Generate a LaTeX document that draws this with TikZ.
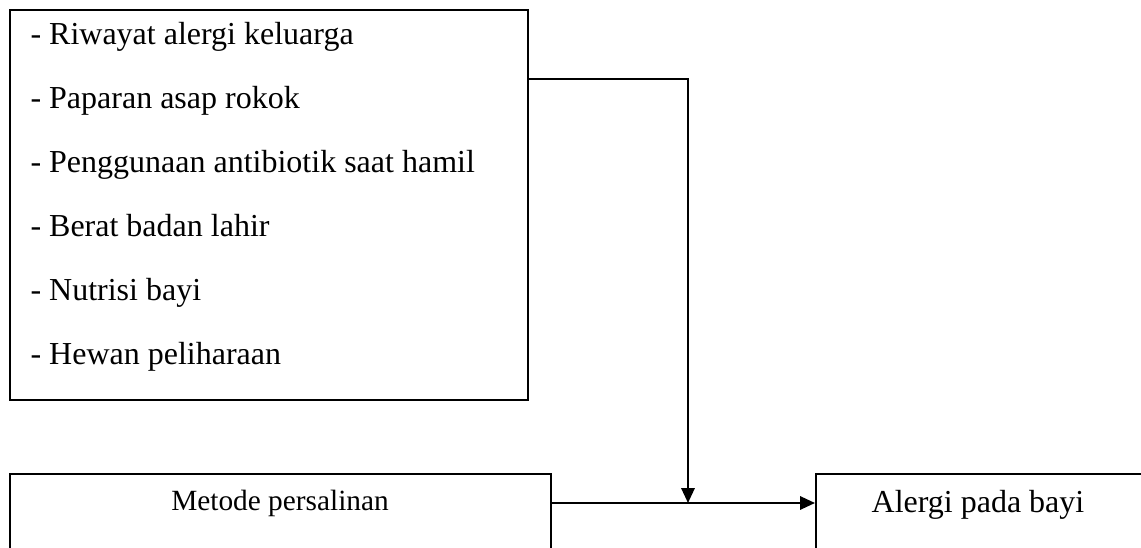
\documentclass[tikz,border=0pt]{standalone}
\usepackage{fontspec}
\setmainfont{Liberation Serif}
\usetikzlibrary{arrows.meta}
\begin{document}
\begin{tikzpicture}[x=0.375pt,y=-0.375pt,
  box/.style={draw, line width=0.8pt, rectangle, inner sep=0pt, anchor=north west},
  item/.style={anchor=base west, inner sep=0pt, font=\fontsize{12}{14}\selectfont},
  lbl/.style={anchor=base, inner sep=0pt},
  arr/.style={line width=0.8pt, -{Triangle[length=5.6pt,width=5pt]}}]
\useasboundingbox (0,0) rectangle (1141,548);
\clip (0,0) rectangle (1141,548);
\node[box, minimum width=194.25pt, minimum height=146.25pt] (top) at (9,9) {};
\node[box, minimum width=202.875pt, minimum height=40pt] (bl) at (9,473) {};
\node[box, minimum width=125.6pt, minimum height=40pt] (rb) at (815,473) {};
\foreach \t [count=\i from 0] in {Riwayat alergi keluarga, Paparan asap rokok, Penggunaan antibiotik saat hamil, Berat badan lahir, Nutrisi bayi, Hewan peliharaan}
  \node[item] (it\i) at (30,{45+64*\i}) {- \t};
\node[lbl, font=\fontsize{11}{13}\selectfont] (mt) at (280,511) {Metode persalinan};
\node[lbl, font=\fontsize{12}{14}\selectfont] (al) at (978,513) {Alergi pada bayi};
\coordinate (j) at (688,503);
\draw[arr] ([yshift=-26.25pt]top.north east) -| (j);
\draw[arr] (bl.north east |- j) -- (rb.north west |- j);
\end{tikzpicture}
\end{document}
